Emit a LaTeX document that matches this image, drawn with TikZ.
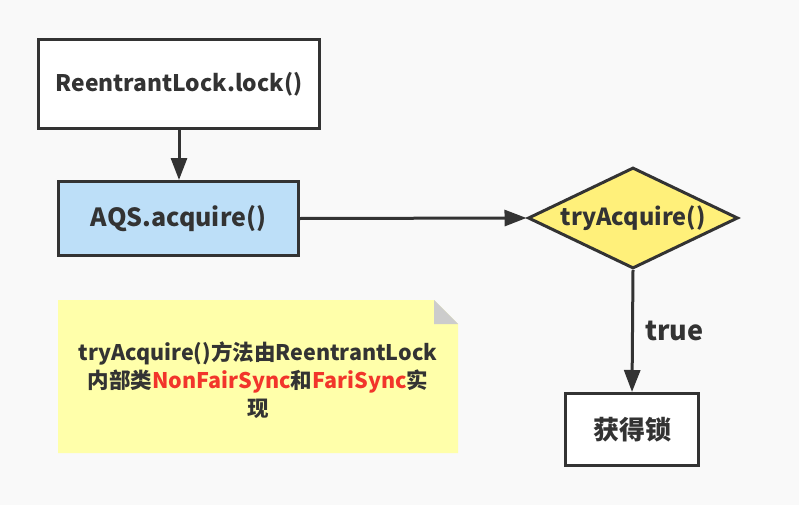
\documentclass[tikz,border=0pt]{standalone}
\usepackage{fontspec}
\setmainfont{Noto Sans CJK SC}
\usetikzlibrary{arrows.meta,positioning,shapes.geometric}
\definecolor{edgegray}{HTML}{333333}
\definecolor{pageback}{HTML}{F9F9F9}
\definecolor{aqsblue}{HTML}{BDDFF8}
\definecolor{condyellow}{HTML}{FFF07A}
\definecolor{noteyellow}{HTML}{FFFFAA}
\definecolor{foldgray}{HTML}{CCCCCC}
\definecolor{hlred}{HTML}{F2352B}

\begin{document}
\begin{tikzpicture}[x=1pt,y=-1pt,
  flowbox/.style={draw=edgegray,line width=3pt,text=edgegray,inner sep=0pt},
  flowline/.style={draw=edgegray,line width=3pt,-{Triangle[length=22pt,width=16pt]}}]
  % page
  \fill[pageback] (0,0) rectangle (799,505);

  % flow boxes
  \node[flowbox,fill=white,minimum width=281pt,minimum height=89pt,
        font=\bfseries\fontsize{22.8}{26}\selectfont] (lock) at (179,84) {ReentrantLock.lock()};
  \node[flowbox,fill=aqsblue,minimum width=240pt,minimum height=74pt,
        font=\bfseries\fontsize{25}{30}\selectfont] (acquire) at (178.5,218.5) {AQS.acquire()};
  \node[flowbox,diamond,aspect=2,fill=condyellow,minimum width=210pt,minimum height=101pt,
        font=\bfseries\fontsize{23.5}{28}\selectfont] (try) at (633,218) {tryAcquire()};
  \node[flowbox,fill=white,minimum width=133pt,minimum height=72pt,
        font=\bfseries\fontsize{26}{30}\selectfont] (getlock) at (632,429.5) {获得锁};

  % connectors
  \draw[flowline] (lock.south) -- (lock.south |- acquire.north);
  \draw[flowline] (acquire.east) -- (try.west);
  \draw[flowline] (try.south) -- node[anchor=west,xshift=8pt,text=edgegray,
        font=\bfseries\fontsize{27}{30}\selectfont] (truelabel) {true} (getlock.north);

  % note with folded corner
  \fill[noteyellow] (58,300) -- (434,300) -- (458,324) -- (458,453) -- (58,453) -- cycle;
  \fill[foldgray] (434,300) -- (458,324) -- (434,324) -- cycle;
  \node[align=center,text=edgegray,font=\bfseries\fontsize{21.5}{28}\selectfont] (notetext) at (258,380)
    {tryAcquire()方法由ReentrantLock\\内部类\textcolor{hlred}{NonFairSync}和\textcolor{hlred}{FariSync}实\\现};
\end{tikzpicture}
\end{document}
